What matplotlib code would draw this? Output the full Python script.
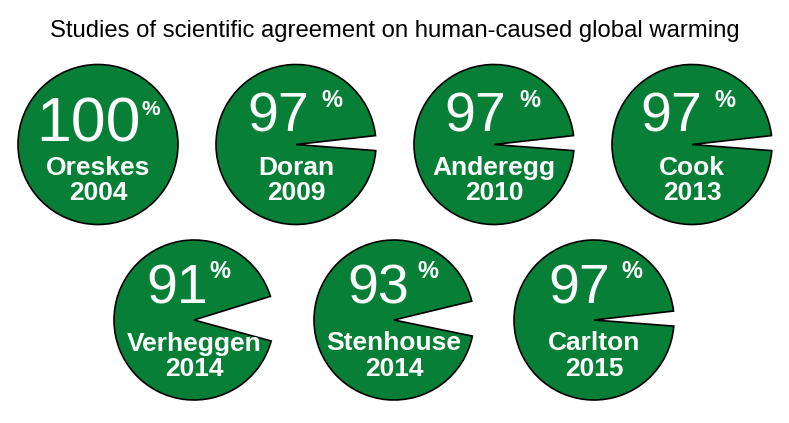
import matplotlib
matplotlib.use('Agg')
import matplotlib.pyplot as plt
from matplotlib.patches import Wedge, Circle

# data
authors = ['Oreskes', 'Doran', 'Anderegg', 'Cook', 'Verheggen', 'Stenhouse', 'Carlton']
years = ['2004', '2009', '2010', '2013', '2014', '2014', '2015']
percents = [100, 97, 97, 97, 91, 93, 97]

title = 'Studies of scientific agreement on human-caused global warming'

# layout (pixel coords, y down)
cx = [98, 296, 494, 692, 194, 394, 594]
cy = [144.5, 144.5, 144.5, 144.5, 320, 320, 320]
R = 80
num_dx = [-9.5, -18, -19, -21, -16.5, -16, -15]
num_off = [2.5, 12.5, 12.5, 12.5, 17, 17, 17]
pct_dx = [44, 25, 25, 22, 15, 23, 27]
pct_off = [29.5, 37.5, 37.5, 37.5, 42, 42, 42]

green = '#087f37'

plt.rcParams['font.family'] = ['Liberation Sans', 'DejaVu Sans']

fig = plt.figure(figsize=(7.89, 4.23), dpi=100)
ax = fig.add_axes([0, 0, 1, 1])
ax.set_xlim(0, 789)
ax.set_ylim(423, 0)
ax.axis('off')

ax.text(395, 37, title, ha='center', va='baseline', fontsize=17.2, color='black')

for i in range(len(authors)):
    x, y, p = cx[i], cy[i], percents[i]
    gap = (100 - p) * 3.6
    if gap == 0:
        patch = Circle((x, y), R, facecolor=green, edgecolor='black', lw=1.2)
    else:
        tilt = -1.0  # slight upward tilt (y axis inverted)
        patch = Wedge((x, y), R, gap / 2 + tilt, 360 - gap / 2 + tilt,
                      facecolor=green, edgecolor='black', lw=1.2)
    ax.add_patch(patch)

    size = 45 if p == 100 else 40
    ax.text(x + num_dx[i], y - num_off[i], str(p), ha='center', va='baseline',
            fontsize=size, color='white')
    psize = 15 if p == 100 else 17
    ax.text(x + pct_dx[i], y - pct_off[i], '%', ha='left', va='baseline',
            fontsize=psize, fontweight='bold', color='white')
    ax.text(x, y + 30.5, authors[i], ha='center', va='baseline',
            fontsize=19, fontweight='bold', color='white')
    ax.text(x, y + 55.5, years[i], ha='center', va='baseline',
            fontsize=19, fontweight='bold', color='white')

fig.savefig('out.png', dpi=100)
